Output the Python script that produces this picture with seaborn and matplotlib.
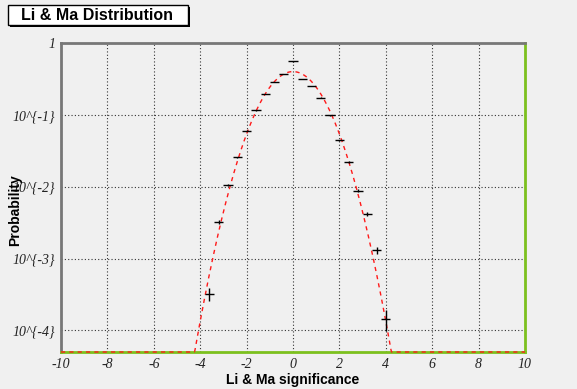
import numpy as np
import pandas as pd
import matplotlib
matplotlib.use("Agg")
import matplotlib.pyplot as plt
from matplotlib.patches import Rectangle
from matplotlib.ticker import FixedLocator, NullFormatter
import seaborn as sns

# ---- data ----
bin_centers = [-3.6, -3.2, -2.8, -2.4, -2.0, -1.6, -1.2, -0.8, -0.4, 0.0,
               0.4, 0.8, 1.2, 1.6, 2.0, 2.4, 2.8, 3.2, 3.6, 4.0]
probability = [3.26e-4, 3.25e-3, 0.0106, 0.0257, 0.0604, 0.115, 0.196, 0.286, 0.370, 0.553,
               0.315, 0.251, 0.173, 0.098, 0.0444, 0.0219, 0.0088, 0.0042, 0.0013, 1.46e-4]
prob_err = [6.6e-5, 2.1e-4, 3.8e-4, 5.8e-4, 9.0e-4, 1.2e-3, 1.6e-3, 2.0e-3, 2.2e-3, 2.7e-3,
            2.0e-3, 1.8e-3, 1.5e-3, 1.1e-3, 7.7e-4, 5.4e-4, 3.4e-4, 2.4e-4, 1.3e-4, 4.8e-5]
half_bin = 0.2
# Gaussian fit parameters (amplitude, mean, sigma)
fit_amp, fit_mean, fit_sigma = 0.40, 0.0, 1.0

x_ticks = [-10, -8, -6, -4, -2, 0, 2, 4, 6, 8, 10]
x_tick_labels = ["-10", "-8", "-6", "-4", "-2", "0", "2", "4", "6", "8", "10"]
y_ticks = [1e-4, 1e-3, 1e-2, 1e-1, 1.0]
y_tick_labels = ["10^{-4}", "10^{-3}", "10^{-2}", "10^{-1}", "1"]

y_min, y_max = 5.0e-5, 1.0

sns.set_theme(style="white")
plt.rcParams['font.family'] = ['Liberation Sans', 'DejaVu Sans']

bg = "#f0f0f0"
fig = plt.figure(figsize=(5.77, 3.89), dpi=100, facecolor=bg)
ax = fig.add_axes([61/577, 1 - 352/389, (525-61)/577, (352-43)/389])
ax.set_facecolor(bg)

# fit curve (clipped at bottom like ROOT)
xs = np.linspace(-10, 10, 801)
ys = fit_amp * np.exp(-0.5 * ((xs - fit_mean) / fit_sigma) ** 2)
ys = np.maximum(ys, y_min)
curve = pd.DataFrame({"x": xs, "y": ys})
sns.lineplot(data=curve, x="x", y="y", ax=ax, color="#ff1a1a", lw=1.0,
             linestyle=(0, (3, 3)), zorder=4, clip_on=False)

# data points with error bars
ax.errorbar(bin_centers, probability, xerr=half_bin, yerr=prob_err, fmt="none",
            ecolor="black", elinewidth=1.0, capsize=0, zorder=5)

ax.set_yscale("log")
ax.set_xlim(-10, 10)
ax.set_ylim(y_min, y_max)

ax.xaxis.set_major_locator(FixedLocator(x_ticks))
ax.xaxis.set_minor_locator(FixedLocator(np.arange(-10, 10.01, 0.5)))
ax.set_xticklabels(x_tick_labels)
ax.yaxis.set_major_locator(FixedLocator(y_ticks))
minor_y = [m * 10.0 ** e for e in range(-5, 0) for m in range(2, 10)]
ax.yaxis.set_minor_locator(FixedLocator([v for v in minor_y if y_min <= v <= y_max]))
ax.yaxis.set_minor_formatter(NullFormatter())
ax.set_yticklabels(y_tick_labels)

for lab in ax.get_xticklabels() + ax.get_yticklabels():
    lab.set_fontfamily("Liberation Serif")
    lab.set_fontstyle("italic")
    lab.set_fontsize(10)
    lab.set_color("#222222")

ax.tick_params(axis="both", which="major", direction="in", length=8, width=1.2,
               color="#555555", pad=4)
ax.tick_params(axis="both", which="minor", direction="in", length=4, width=1.0,
               color="#555555")
ax.tick_params(axis="x", which="both", color="black")

ax.grid(True, which="major", color="#333333", linestyle=(0, (1, 2)), linewidth=0.8)

for side in ["left", "top"]:
    ax.spines[side].set_color("#777777")
    ax.spines[side].set_linewidth(2.0)
ax.spines["right"].set_color("#7cc01e")
ax.spines["right"].set_linewidth(2.0)
ax.spines["bottom"].set_color("#7cc01e")
ax.spines["bottom"].set_linewidth(2.0)

ax.set_xlabel("")
ax.set_ylabel("")
fig.text(293/577, 1 - 380/389, "Li & Ma significance", ha="center", va="center",
         fontsize=10, fontweight="bold", color="black")
fig.text(15/577, 1 - 210/389, "Probability", ha="center", va="center", rotation=90,
         fontsize=10, fontweight="bold", color="black")

# title box with shadow
W, H = 577, 389
fig.patches.append(Rectangle((10/W, 1 - 27/H), 180/W, 20/H, transform=fig.transFigure,
                             facecolor="black", edgecolor="none", zorder=1))
fig.patches.append(Rectangle((8/W, 1 - 25/H), 180/W, 20/H, transform=fig.transFigure,
                             facecolor="white", edgecolor="black", linewidth=1.0, zorder=2))
fig.text(97/W, 1 - 15/H, "Li & Ma Distribution", ha="center", va="center",
         fontsize=11.5, fontweight="bold", color="black", zorder=3)

fig.savefig("out.png", dpi=100, facecolor=bg)
